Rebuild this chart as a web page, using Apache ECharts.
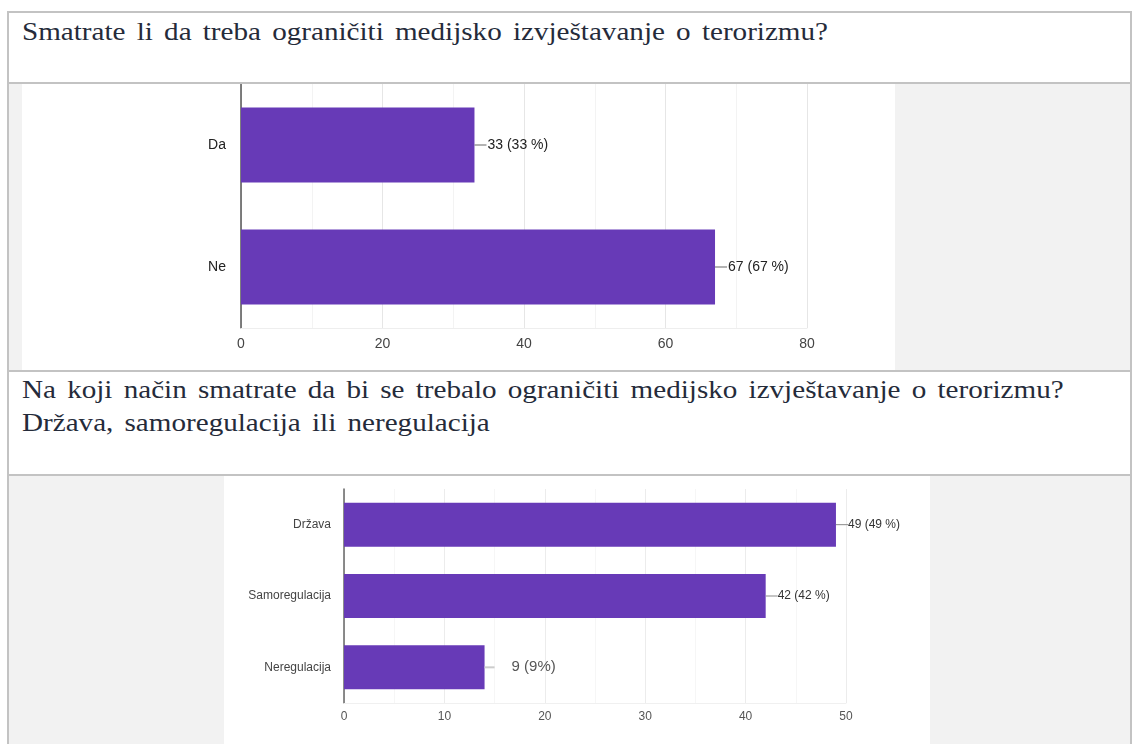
<!DOCTYPE html>
<html>
<head>
<meta charset="utf-8">
<title>Medijsko izvještavanje o terorizmu</title>
<script src="https://cdn.jsdelivr.net/npm/echarts@6/dist/echarts.min.js"></script>
<style>
html, body { margin: 0; padding: 0; background: #fff; width: 1132px; height: 744px; overflow: hidden; }
.doc-line { position: absolute; background: #c3c3c3; }
.doc-grey { position: absolute; background: #f2f2f2; }
.doc-text {
    position: absolute; left: 22px; margin: 0;
    font-family: "Liberation Serif", "Times New Roman", serif;
    font-size: 26px; line-height: 33px; color: #252b3a; white-space: nowrap;
    word-spacing: 3.5px;
    transform: scaleX(1.12); transform-origin: 0 0;
}
.chart { position: absolute; background: #fff; }
</style>
</head>
<body>
<!-- okvir tablice -->
<div class="doc-grey" style="left:8px;top:84px;width:1123px;height:287px;"></div>
<div class="doc-grey" style="left:8px;top:476px;width:1123px;height:268px;"></div>
<div class="doc-line" style="left:8px;top:11px;width:1124px;height:2px;"></div>
<div class="doc-line" style="left:8px;top:82px;width:1124px;height:2px;"></div>
<div class="doc-line" style="left:8px;top:370px;width:1124px;height:2px;"></div>
<div class="doc-line" style="left:8px;top:474px;width:1124px;height:2px;"></div>
<div class="doc-line" style="left:7px;top:11px;width:2px;height:733px;"></div>
<div class="doc-line" style="left:1130px;top:11px;width:2px;height:733px;"></div>

<p class="doc-text" style="top:15px;">Smatrate li da treba ograničiti medijsko izvještavanje o terorizmu?</p>
<p class="doc-text" style="top:373px;">Na koji način smatrate da bi se trebalo ograničiti medijsko izvještavanje o terorizmu?<br>Država, samoregulacija ili neregulacija</p>

<div id="pitanje-1" class="chart" style="left:22px;top:84px;width:873px;height:286px;"></div>
<div id="pitanje-2" class="chart" style="left:224px;top:476px;width:706px;height:268px;"></div>

<script>
var pitanje1Kategorije = ['Da', 'Ne'];
var pitanje1Vrijednosti = [33, 67];
var pitanje1Oznake = ['33 (33 %)', '67 (67 %)'];

var pitanje2Kategorije = ['Država', 'Samoregulacija', 'Neregulacija'];
var pitanje2Vrijednosti = [49, 42, 14];
var pitanje2Oznake = ['49 (49 %)', '42 (42 %)', '9 (9%)'];

var FONT = '"Liberation Sans", Arial, sans-serif';
var LJUBICASTA = '#673ab7';

var chartPitanje1 = echarts.init(document.getElementById('pitanje-1'));
var chartPitanje2 = echarts.init(document.getElementById('pitanje-2'));

chartPitanje1.setOption({
    animation: false,
    textStyle: { fontFamily: FONT },
    grid: { left: 219, right: 88, top: 0, bottom: 42 },
    xAxis: {
        type: 'value', min: 0, max: 80, interval: 10,
        axisLine: { show: true, lineStyle: { color: '#eeeeee' } },
        axisTick: { show: false },
        axisLabel: {
            margin: 9, fontSize: 14, color: '#444', fontFamily: FONT,
            formatter: function (v) { return v % 20 === 0 ? String(v) : ''; }
        },
        splitLine: { lineStyle: { color: ['#e6e6e6', '#f3f3f3'], width: 1 } }
    },
    yAxis: {
        type: 'category', inverse: true, data: pitanje1Kategorije,
        axisLine: { lineStyle: { color: '#555', width: 1.5 } },
        axisTick: { show: false },
        axisLabel: { margin: 15, fontSize: 14, color: '#222', fontFamily: FONT }
    },
    series: [{
        type: 'bar', data: pitanje1Vrijednosti, barWidth: 75,
        itemStyle: { color: LJUBICASTA },
        label: {
            show: true, position: 'right', distance: 0,
            formatter: function (p) { return '{l|}{t|' + pitanje1Oznake[p.dataIndex] + '}'; },
            rich: {
                l: { width: 12, height: 1, backgroundColor: '#666' },
                t: { fontSize: 14, color: '#222', fontFamily: FONT, padding: [0, 0, 0, 1] }
            }
        }
    }]
});

chartPitanje2.setOption({
    animation: false,
    textStyle: { fontFamily: FONT },
    grid: { left: 120, right: 84, top: 13, bottom: 41 },
    xAxis: {
        type: 'value', min: 0, max: 50, interval: 5,
        axisLine: { show: true, lineStyle: { color: '#f0f0f0' } },
        axisTick: { show: false },
        axisLabel: {
            margin: 8, fontSize: 12, color: '#555', fontFamily: FONT,
            formatter: function (v) { return v % 10 === 0 ? String(v) : ''; }
        },
        splitLine: { lineStyle: { color: ['#ececec', '#f6f6f6'], width: 1 } }
    },
    yAxis: {
        type: 'category', inverse: true, data: pitanje2Kategorije,
        axisLine: { lineStyle: { color: '#666', width: 1.5 } },
        axisTick: { show: false },
        axisLabel: { margin: 13, fontSize: 12, color: '#444', fontFamily: FONT }
    },
    series: [{
        type: 'bar', data: pitanje2Vrijednosti, barWidth: 44,
        itemStyle: { color: LJUBICASTA },
        label: {
            show: true, position: 'right', distance: 0,
            formatter: function (p) {
                if (p.dataIndex === 2) return '{l2|}{t2|' + pitanje2Oznake[p.dataIndex] + '}';
                return '{l|}{t|' + pitanje2Oznake[p.dataIndex] + '}';
            },
            rich: {
                l: { width: 12, height: 1, backgroundColor: '#888' },
                t: { fontSize: 12, color: '#333', fontFamily: FONT },
                l2: { width: 10, height: 2, backgroundColor: '#cccccc' },
                t2: { fontSize: 15, color: '#555', fontFamily: FONT, padding: [0, 0, 0, 17] }
            }
        }
    }]
});
</script>
</body>
</html>
